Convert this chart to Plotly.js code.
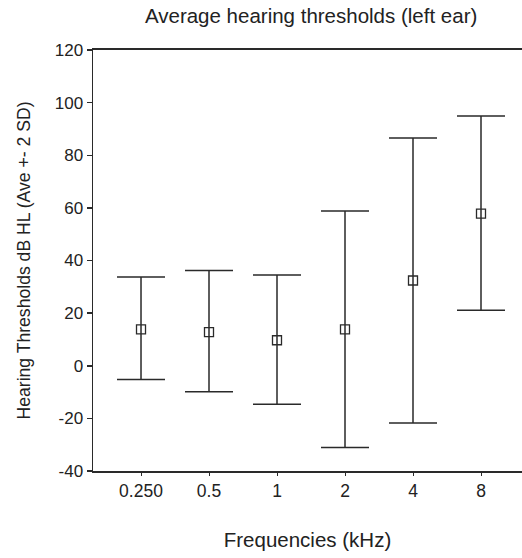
<!DOCTYPE html>
<html>
<head>
<meta charset="utf-8">
<script src="https://cdn.plot.ly/plotly-3.0.1.min.js"></script>
<style>html,body{margin:0;padding:0;background:#fff;}#chart{width:522px;height:558px;}</style>
</head>
<body>
<div id="chart"></div>
<script>
const frequencies = ['0.250', '0.5', '1', '2', '4', '8'];
const means = [13.8, 12.8, 9.7, 13.8, 32.4, 57.8];
const upper = [33.7, 36.2, 34.5, 58.8, 86.6, 94.9];
const lower = [-5.2, -9.9, -14.6, -31.1, -21.8, 21.1];
const yTicks = [-40, -20, 0, 20, 40, 60, 80, 100, 120];
const yTickText = ['-40', '-20', '0', '20', '40', '60', '80', '100', '120'];

const plus = means.map((m, i) => upper[i] - m);
const minus = means.map((m, i) => m - lower[i]);

const ink = '#2a2a2a';
const trace = {
  type: 'scatter',
  mode: 'markers',
  x: frequencies,
  y: means,
  marker: {symbol: 'square-open', size: 9, color: ink, line: {width: 1.3, color: ink}},
  error_y: {type: 'data', symmetric: false, array: plus, arrayminus: minus,
            color: ink, thickness: 1.5, width: 24},
  hoverinfo: 'skip',
  showlegend: false
};

const layout = {
  width: 522, height: 558,
  margin: {l: 93, r: 0, t: 50, b: 87},
  paper_bgcolor: '#fff', plot_bgcolor: '#fff',
  font: {family: 'Liberation Sans, Arial, sans-serif', color: '#222'},
  title: {text: 'Average hearing thresholds (left ear)', font: {size: 20.5, color: '#222'},
          x: 0.596, xref: 'container', xanchor: 'center',
          y: 0.971, yref: 'container', yanchor: 'middle'},
  xaxis: {
    type: 'category', range: [-0.706, 5.603],
    showgrid: false, zeroline: false,
    showline: true, linecolor: ink, linewidth: 1.6, mirror: true,
    ticks: 'outside', ticklen: 3, tickwidth: 1, tickcolor: ink,
    tickfont: {size: 17.5, color: '#222'},
    title: {text: 'Frequencies (kHz)', font: {size: 20.5, color: '#222'}, standoff: 33}
  },
  yaxis: {
    range: [-40, 120], tickvals: yTicks, ticktext: yTickText,
    showgrid: false, zeroline: false,
    showline: true, linecolor: ink, linewidth: 1.5,
    ticks: 'outside', ticklen: 5, tickwidth: 1.5, tickcolor: ink,
    tickfont: {size: 17, color: '#222'},
    title: {text: 'Hearing Thresholds dB HL (Ave +- 2 SD)', font: {size: 17.6, color: '#222'}, standoff: 19}
  }
};

Plotly.newPlot('chart', [trace], layout, {displayModeBar: false, staticPlot: true});
</script>
</body>
</html>
